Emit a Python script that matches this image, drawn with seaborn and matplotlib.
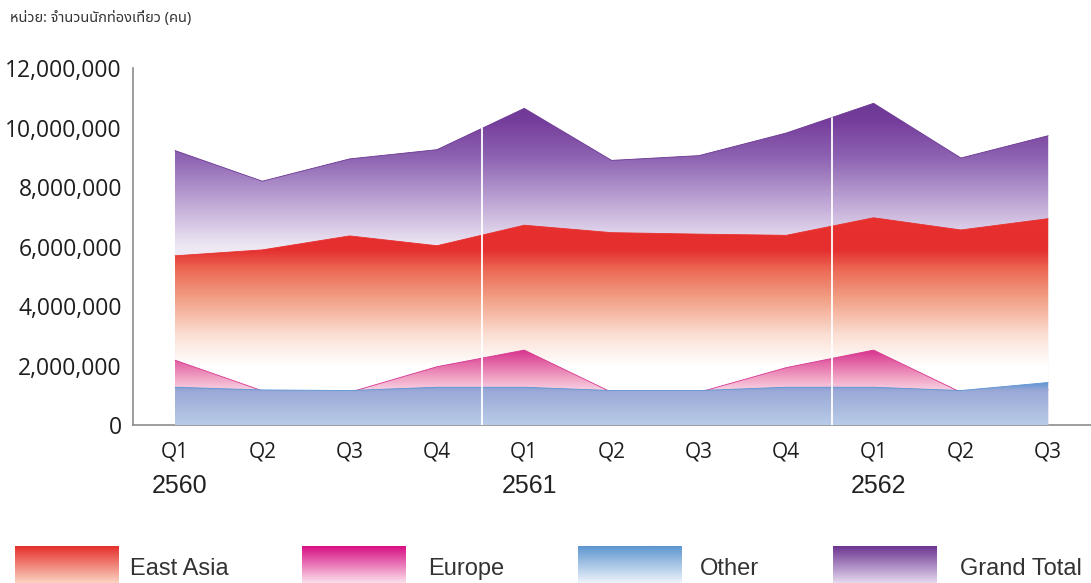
import numpy as np
import pandas as pd
import matplotlib
matplotlib.use("Agg")
import matplotlib.pyplot as plt
from matplotlib.colors import to_rgb
from matplotlib.transforms import offset_copy
import seaborn as sns

# ---------------- data ----------------
quarters = ["Q1", "Q2", "Q3", "Q4", "Q1", "Q2", "Q3", "Q4", "Q1", "Q2", "Q3"]
years = ["2560", "", "", "", "2561", "", "", "", "2562", "", ""]
grand_total = [9230000, 8200000, 8950000, 9260000, 10650000, 8900000, 9060000, 9820000, 10820000, 8980000, 9730000]
east_asia = [5690000, 5890000, 6360000, 6030000, 6720000, 6470000, 6420000, 6380000, 6970000, 6560000, 6940000]
europe = [2180000, 1150000, 1100000, 1960000, 2520000, 1100000, 1100000, 1930000, 2520000, 1100000, 1200000]
other = [1270000, 1180000, 1160000, 1270000, 1270000, 1160000, 1160000, 1270000, 1270000, 1160000, 1430000]
series_names = ["East Asia", "Europe", "Other", "Grand Total"]
title_text = "หน่วย: จำนวนนักท่องเที่ยว (คน)"
y_ticks = [0, 2000000, 4000000, 6000000, 8000000, 10000000, 12000000]
year_breaks = [3.52, 7.52]

# gradient stops (value, colour)
grad_total = [(6.0e6, "#EEE8F4"), (7.5e6, "#BFA6D5"), (9.0e6, "#8D63B2"), (10.2e6, "#763E9C"), (11.0e6, "#6A3592")]
grad_east = [(2.0e6, "#FFFFFF"), (3.0e6, "#FBE0D5"), (4.2e6, "#F2A288"), (5.2e6, "#EC6A55"), (5.9e6, "#E52E2E"), (7.0e6, "#E8302E")]
grad_europe = [(1.1e6, "#F8D8E6"), (1.6e6, "#F0A0C4"), (2.5e6, "#D8358F")]
grad_other = [(0.0, "#B8CCE8"), (1.15e6, "#9AA8D6"), (1.45e6, "#5A94D4")]

legend_grads = [("#E5302C", "#FAD2C0"), ("#D80F84", "#FBE0EC"), ("#5E97D0", "#EEF3FA"), ("#6E3592", "#E3D8EE")]

# ---------------- figure ----------------
sns.set_theme(style="white")
plt.rcParams["font.family"] = ["Open Sans", "DejaVu Sans"]

fig = plt.figure(figsize=(10.91, 5.83), dpi=100)
ax = fig.add_axes([0.122, 0.271, 0.878, 0.612])

x = np.arange(len(quarters))
df = pd.DataFrame({"x": x, "Grand Total": grand_total, "East Asia": east_asia,
                   "Europe": europe, "Other": other})

YMAX = 12000000
XMIN, XMAX = -0.48, 10.49


def grad_image(stops, n=600):
    vals = np.linspace(0, YMAX, n)
    sv = [s[0] for s in stops]
    cols = np.array([to_rgb(s[1]) for s in stops])
    img = np.zeros((n, 1, 3))
    for c in range(3):
        img[:, 0, c] = np.interp(vals, sv, cols[:, c])
    return img


layers = [("Grand Total", grad_total, 1), ("East Asia", grad_east, 2),
          ("Europe", grad_europe, 3), ("Other", grad_other, 4)]
for name, stops, z in layers:
    poly = ax.fill_between(df["x"], 0, df[name], color="none", lw=0, zorder=z)
    im = ax.imshow(grad_image(stops), extent=[x[0], x[-1], 0, YMAX], origin="lower",
                   aspect="auto", zorder=z, interpolation="bilinear")
    im.set_clip_path(poly.get_paths()[0], transform=ax.transData)
    sns.lineplot(data=df, x="x", y=name, ax=ax, color=stops[-1][1], lw=0.6,
                 zorder=z + 0.1, legend=False)

# white separators between years
for xb in year_breaks:
    top = np.interp(xb, x, grand_total)
    ax.plot([xb, xb], [0, top], color="white", lw=1.3, zorder=6)

ax.set_xlim(XMIN, XMAX)
ax.set_ylim(0, YMAX)
ax.set_xlabel("")
ax.set_ylabel("")
ax.set_yticks(y_ticks)
ax.set_yticklabels([f"{v:,}" for v in y_ticks], fontsize=16.5, color="#1E1E1E")
ax.set_xticks(x)
ax.set_xticklabels(quarters, fontsize=15, color="#1E1E1E")
ax.tick_params(axis="y", length=0, pad=8)
ax.tick_params(axis="x", length=0, pad=12)

for s in ["top", "right"]:
    ax.spines[s].set_visible(False)
for s in ["left", "bottom"]:
    ax.spines[s].set_color("#8C8C8C")
    ax.spines[s].set_linewidth(1.2)

# year labels
ytrans = offset_copy(ax.get_xaxis_transform(), fig=fig, x=5, y=0, units="dots")
for xi, yr in zip(x, years):
    if yr:
        ax.text(xi, -0.17, yr, transform=ytrans, ha="center", va="center",
                fontsize=18, family=["Liberation Sans", "DejaVu Sans"], color="#222222")

# title
fig.text(0.009, 0.968, title_text, fontsize=10.5, color="#333333",
         family=["Noto Sans Thai", "Loma", "Garuda", "Tlwg Typo", "Noto Sans", "DejaVu Sans"],
         ha="left", va="center")

# legend with gradient swatches
lax = fig.add_axes([0, 0, 1, 1], facecolor="none")
lax.set_xlim(0, 1091)
lax.set_ylim(583, 0)
lax.axis("off")
swatch_x = [15, 302, 578, 833]
text_x = [130, 428, 700, 960]
for sx, tx, name, (c1, c2) in zip(swatch_x, text_x, series_names, legend_grads):
    g = np.zeros((50, 1, 3))
    a, b = np.array(to_rgb(c1)), np.array(to_rgb(c2))
    t = np.linspace(0, 1, 50)[:, None]
    g[:, 0, :] = a * (1 - t) + b * t
    lax.imshow(g, extent=[sx, sx + 104, 583, 546], aspect="auto", interpolation="bilinear")
    lax.text(tx, 569, name, fontsize=17, family=["Liberation Sans", "DejaVu Sans"],
             color="#333333", ha="left", va="center")
lax.set_xlim(0, 1091)
lax.set_ylim(583, 0)

fig.savefig("out.png", dpi=100)
